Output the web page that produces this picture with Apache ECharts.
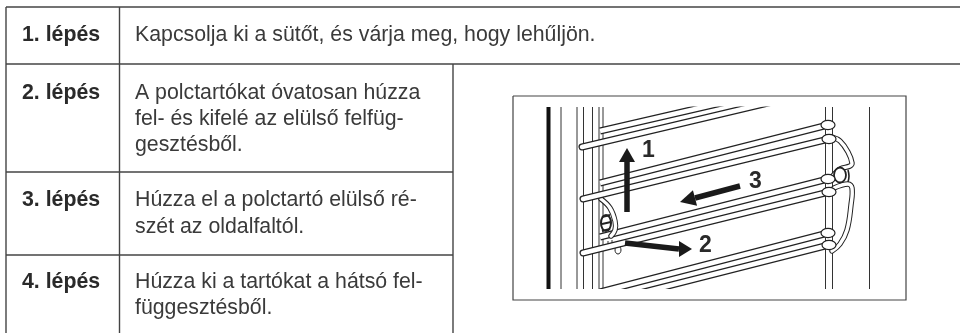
<!DOCTYPE html>
<html>
<head>
<meta charset="utf-8">
<style>html,body{margin:0;padding:0;background:#fff}#chart{width:960px;height:333px}</style>
<script src="https://cdn.jsdelivr.net/npm/echarts@6/dist/echarts.min.js"></script>
</head>
<body>
<div id="chart"></div>
<script>
const stepLabels = ['1. lépés', '2. lépés', '3. lépés', '4. lépés'];
const stepTexts = [
  ['Kapcsolja ki a sütőt, és várja meg, hogy lehűljön.'],
  ['A polctartókat óvatosan húzza', 'fel- és kifelé az elülső felfüg-', 'gesztésből.'],
  ['Húzza el a polctartó elülső ré-', 'szét az oldalfaltól.'],
  ['Húzza ki a tartókat a hátsó fel-', 'függesztésből.']
];
const stepCenters = [
  [35],
  [93, 119, 145],
  [200, 227],
  [282, 308]
];
const arrowNames = ['1', '2', '3'];
const arrowNamePos = [[642, 151], [699, 246], [749, 182]];

// table rules, picture pixels
const tableRules = [
  [[6, 7], [960, 7]],
  [[6, 64], [960, 64]],
  [[6, 172], [453, 172]],
  [[6, 255], [453, 255]],
  [[6, 7], [6, 333]],
  [[119.5, 7], [119.5, 333]],
  [[453, 64], [453, 333]]
];
const frame = [[513, 96], [906, 96], [906, 300], [513, 300], [513, 96]];

// oven wall lines
const wallThick = [[[548.5, 107], [548.5, 289]]];
const wallThin = [
  [[561, 107], [561, 289]],
  [[577, 107], [577, 289]],
  [[583.5, 107], [583.5, 289]],
  [[592.5, 107], [592.5, 289]],
  [[599, 107], [599, 289]],
  [[603, 107], [603, 289]],
  [[825.5, 107], [825.5, 289]],
  [[832.5, 107], [832.5, 289]],
  [[869.5, 107], [869.5, 289]],
  [[608, 241], [608, 248]],
  [[612, 240], [612, 246]]
];

// shelf wires, centre lines
const backWires = [
  [[600, 131], [730, 101]],
  [[600, 183], [828, 125]],
  [[600, 237], [828, 179]],
  [[600, 292], [828, 233]]
];
const frontWires = [
  [[582, 147], [770, 102.5]],
  [[583, 199], [829, 139]],
  [[583, 253], [829, 192]],
  [[640, 293], [829, 245]]
];
const wireEnds = [
  [828, 125], [829, 139], [828, 179], [829, 192], [828, 233], [829, 245]
];

// hanger brackets
const bracketPaths = [
  [[832, 137], [840, 141], [848, 152], [852, 163], [850, 166], [840, 169], [832, 177]],
  [[834, 188], [848, 184], [852, 188], [851, 205], [847, 230], [840, 244], [832, 251]],
  [[601, 199], [610, 208], [615, 221], [615, 230], [611, 236]]
];
const leftClip = [[606, 223]];
const rightClip = [[840, 175]];
const clipBands = [
  [[602, 217], [610, 215]],
  [[602, 224], [611, 222]],
  [[602, 231], [610, 229]]
];
const rightClipEdge = [[[848, 170], [849, 176], [848, 182]]];
const pegs = [[618, 250]];

// arrows: shaft start, shaft end, tip
const arrowPaths = [
  [[627, 212], [627, 162], [627, 148]],
  [[625, 243], [679, 249], [692, 249]],
  [[740, 186], [695, 198], [680, 202]]
];

const maskRects = [
  [[514, 97], [905, 106.5]],
  [[514, 289], [905, 299.5]]
];

const lineColor = '#333';

const polyItem = (api, pts, style, smooth) => ({
  type: 'polyline',
  shape: { points: pts.map(p => api.coord(p)), smooth: smooth || 0 },
  style: Object.assign({ fill: null, stroke: lineColor }, style)
});

const pathSeries = (name, paths, style, smooth, z) => ({
  name, type: 'custom', coordinateSystem: 'cartesian2d', silent: true, clip: false, z,
  data: paths.map((p, i) => [p[0][0], p[0][1], i]),
  renderItem: (params, api) => polyItem(api, paths[params.dataIndex], style, smooth)
});

const dotSeries = (name, pts, rx, ry, style, z) => ({
  name, type: 'custom', coordinateSystem: 'cartesian2d', silent: true, z,
  data: pts,
  renderItem: (params, api) => {
    const c = api.coord([api.value(0), api.value(1)]);
    return { type: 'ellipse', shape: { cx: c[0], cy: c[1], rx, ry }, style };
  }
});

const getOption = () => {
  const textRows = [];
  stepLabels.forEach((label, i) => {
    textRows.push([22, stepCenters[i][0], label, 'bold']);
    stepTexts[i].forEach((line, j) => textRows.push([135, stepCenters[i][j], line, 'normal']));
  });
  arrowNames.forEach((n, i) => textRows.push([arrowNamePos[i][0], arrowNamePos[i][1], n, 'arrow']));

  const outline = { stroke: '#222', lineWidth: 7, lineCap: 'round' };
  const inner = { stroke: '#fff', lineWidth: 4.6, lineCap: 'round' };
  const butt = { stroke: '#222', lineWidth: 7, lineCap: 'butt' };
  const buttIn = { stroke: '#fff', lineWidth: 4.6, lineCap: 'butt' };

  return {
    animation: false,
    backgroundColor: '#fff',
    grid: { left: 0, right: 0, top: 0, bottom: 0 },
    xAxis: { type: 'value', min: 0, max: 960, show: false },
    yAxis: { type: 'value', min: 0, max: 333, inverse: true, show: false },
    series: [
      pathSeries('walls', wallThin, { stroke: '#333', lineWidth: 1 }, 0, 2),
      pathSeries('wall', wallThick, { stroke: '#111', lineWidth: 4 }, 0, 2),
      pathSeries('back outer', backWires, butt, 0, 3),
      pathSeries('back inner', backWires, buttIn, 0, 3),
      dotSeries('left clip', leftClip, 5, 8, { fill: '#fff', stroke: '#222', lineWidth: 2 }, 3),
      pathSeries('clip bands', clipBands, { stroke: '#222', lineWidth: 2 }, 0, 3),
      pathSeries('bracket outer', bracketPaths, { stroke: '#222', lineWidth: 5.4, lineCap: 'round' }, 0.4, 3),
      pathSeries('bracket inner', bracketPaths, { stroke: '#fff', lineWidth: 3.4, lineCap: 'round' }, 0.4, 3),
      dotSeries('right clip', rightClip, 6, 7.5, { fill: '#fff', stroke: '#222', lineWidth: 1.8 }, 3),
      pathSeries('right clip edge', rightClipEdge, { stroke: '#222', lineWidth: 1.6 }, 0.4, 3),
      dotSeries('pegs', pegs, 3, 4, { fill: '#fff', stroke: '#222', lineWidth: 1 }, 3),
      pathSeries('front outer', frontWires, outline, 0, 4),
      pathSeries('front inner', frontWires, inner, 0, 4),
      dotSeries('wire ends', wireEnds, 7, 4.6, { fill: '#fff', stroke: '#222', lineWidth: 1.2 }, 4),
      {
        name: 'masks', type: 'custom', coordinateSystem: 'cartesian2d', silent: true, z: 5,
        data: maskRects.map(r => r[0]),
        renderItem: (params, api) => {
          const a = api.coord(maskRects[params.dataIndex][0]);
          const b = api.coord(maskRects[params.dataIndex][1]);
          return { type: 'rect', shape: { x: a[0], y: a[1], width: b[0] - a[0], height: b[1] - a[1] }, style: { fill: '#fff' } };
        }
      },
      pathSeries('table', tableRules, { stroke: '#444', lineWidth: 1.4 }, 0, 6),
      pathSeries('frame', [frame], { stroke: '#444', lineWidth: 1.2 }, 0, 6),
      {
        name: 'arrows', type: 'custom', coordinateSystem: 'cartesian2d', silent: true, z: 7,
        data: arrowPaths.map(a => a[0]),
        renderItem: (params, api) => {
          const a = arrowPaths[params.dataIndex];
          const s = api.coord(a[0]), e = api.coord(a[1]), t = api.coord(a[2]);
          const len = Math.hypot(t[0] - e[0], t[1] - e[1]);
          const ux = (t[0] - e[0]) / len, uy = (t[1] - e[1]) / len;
          const hw = 8;
          return {
            type: 'group',
            children: [
              { type: 'line', shape: { x1: s[0], y1: s[1], x2: e[0], y2: e[1] }, style: { stroke: '#1a1a1a', lineWidth: 5.5 } },
              { type: 'polygon', shape: { points: [t, [e[0] - uy * hw, e[1] + ux * hw], [e[0] + uy * hw, e[1] - ux * hw]] }, style: { fill: '#1a1a1a' } }
            ]
          };
        }
      },
      {
        name: 'texts', type: 'custom', coordinateSystem: 'cartesian2d', silent: true, z: 8,
        data: textRows,
        encode: { x: 0, y: 1 },
        renderItem: (params, api) => {
          const row = textRows[params.dataIndex];
          const c = api.coord([row[0], row[1]]);
          const isArrow = row[3] === 'arrow';
          return {
            type: 'text',
            x: c[0], y: c[1],
            style: {
              text: row[2],
              fontFamily: 'Liberation Sans, Arial, sans-serif',
              fontSize: isArrow ? 23 : 21.3,
              fontWeight: row[3] === 'normal' ? 'normal' : 'bold',
              fill: row[3] === 'normal' ? '#3a3a3a' : '#2a2a2a',
              verticalAlign: 'middle'
            }
          };
        }
      }
    ]
  };
};

window.addEventListener('load', () => {
  const chart = echarts.init(document.getElementById('chart'));
  chart.setOption(getOption());
});
</script>
</body>
</html>
